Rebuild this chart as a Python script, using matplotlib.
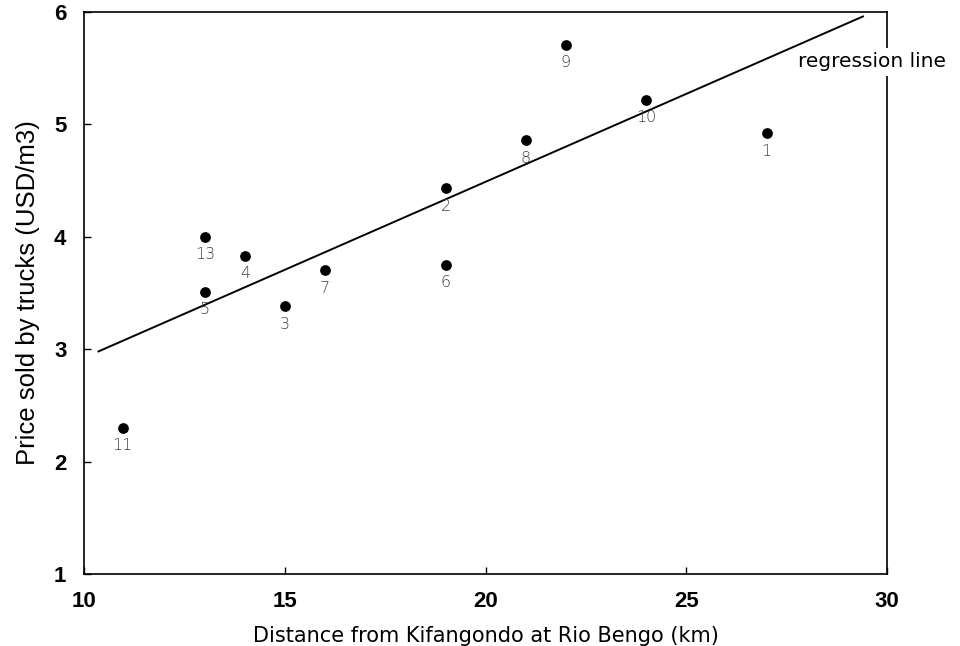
import matplotlib.pyplot as plt

# sample points: id, distance (km), price (USD/m3)
point_ids = ["1", "2", "3", "4", "5", "6", "7", "8", "9", "10", "11", "13"]
distance_km = [27.0, 19.0, 15.0, 14.0, 13.0, 19.0, 16.0, 21.0, 22.0, 24.0, 10.95, 13.0]
price_usd = [4.92, 4.43, 3.38, 3.83, 3.51, 3.75, 3.70, 4.86, 5.71, 5.22, 2.30, 4.00]

# regression line endpoints as drawn
reg_x = [10.35, 29.4]
reg_y = [2.98, 5.96]

x_ticks = [10, 15, 20, 25, 30]
y_ticks = [1, 2, 3, 4, 5, 6]

fig = plt.figure(figsize=(9.6, 6.46), dpi=100)
ax = fig.add_axes([0.088, 0.1115, 0.836, 0.87])

ax.scatter(distance_km, price_usd, s=45, color="black", zorder=3)
ax.plot(reg_x, reg_y, color="black", lw=1.4, zorder=2)

for pid, x, y in zip(point_ids, distance_km, price_usd):
    ax.annotate(pid, (x, y), xytext=(0, -18), textcoords="offset pixels",
                ha="center", va="center", fontsize=11.5, color="#444444",
                family="DejaVu Sans", fontweight="light")

ax.set_xlim(10, 30)
ax.set_ylim(1, 6)
tick_font = dict(fontsize=16, fontweight="bold", family="Liberation Sans")
ax.set_xticks(x_ticks, labels=[str(v) for v in x_ticks], **tick_font)
ax.set_yticks(y_ticks, labels=[str(v) for v in y_ticks], **tick_font)
ax.tick_params(direction="in", length=5, width=1)
ax.tick_params(axis="x", pad=12)
ax.tick_params(axis="y", pad=13)

for sp in ax.spines.values():
    sp.set_linewidth(1.2)

ax.set_xlabel("Distance from Kifangondo at Rio Bengo (km)", fontsize=15,
              family="DejaVu Sans", labelpad=10)
ax.set_ylabel("Price sold by trucks (USD/m3)", fontsize=18.5,
              family="Liberation Sans", labelpad=10)

ax.text(0.889, 0.911, "regression line", transform=ax.transAxes, fontsize=14.5,
        ha="left", va="center", clip_on=False, zorder=5,
        family="DejaVu Sans",
        bbox=dict(facecolor="white", edgecolor="none", pad=3))

fig.savefig("out.png", dpi=100)
